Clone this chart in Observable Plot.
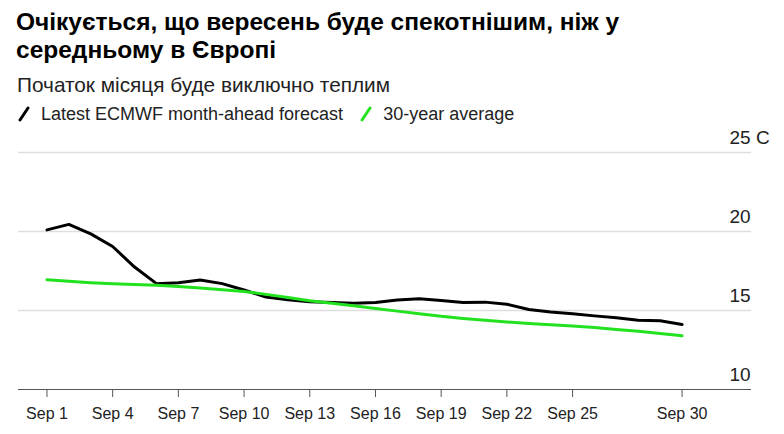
<!DOCTYPE html>
<html>
<head>
<meta charset="utf-8">
<script src="https://cdn.jsdelivr.net/npm/d3@7"></script>
<script src="https://cdn.jsdelivr.net/npm/@observablehq/plot@0.6"></script>
<style>
  html, body { margin: 0; padding: 0; background: #fff; }
  body { width: 784px; height: 434px; position: relative; overflow: hidden;
         font-family: "Liberation Sans", Arial, sans-serif; color: #000; }
  #title { position: absolute; left: 16px; top: 8px; margin: 0; font-size: 24.5px; font-weight: bold; line-height: 28px; }
  #subtitle { position: absolute; left: 17px; top: 73px; font-size: 20.8px; line-height: 24px; color: #222; }
  #legend { position: absolute; left: 17px; top: 103px; font-size: 18px; line-height: 22px; color: #222; display: flex; align-items: center; }
  #legend .item { display: flex; align-items: center; margin-right: 16px; }
  #legend svg { margin-right: 10px; }
  #chart { position: absolute; left: 0; top: 125px; }
</style>
</head>
<body>
<div id="title">Очікується, що вересень буде спекотнішим, ніж у<br>середньому в Європі</div>
<div id="subtitle">Початок місяця буде виключно теплим</div>
<div id="legend"></div>
<div id="chart"></div>
<script>
// ---- data ----
const days = d3.range(1, 31);
const forecast = [20.1, 20.45, 19.85, 19.05, 17.75, 16.7, 16.75, 16.93, 16.7, 16.3,
                  15.85, 15.68, 15.56, 15.5, 15.46, 15.5, 15.66, 15.74, 15.63, 15.5,
                  15.53, 15.4, 15.06, 14.9, 14.79, 14.66, 14.54, 14.38, 14.35, 14.12];
const average = [16.95, 16.85, 16.76, 16.7, 16.65, 16.6, 16.52, 16.42, 16.32, 16.2,
                 16.02, 15.82, 15.62, 15.46, 15.3, 15.12, 14.96, 14.8, 14.63, 14.5,
                 14.38, 14.27, 14.18, 14.1, 14.02, 13.92, 13.8, 13.68, 13.55, 13.4];
const tickDays = [1, 4, 7, 10, 13, 16, 19, 22, 25, 30];
const yTicks = [10, 15, 20, 25];
const seriesNames = ["Latest ECMWF month-ahead forecast", "30-year average"];
const colors = ["#000000", "#22e21f"];

const date = d => new Date(Date.UTC(2023, 8, d));
const DAY = 864e5;

const rows = [];
days.forEach((d, i) => {
  rows.push({date: date(d), value: forecast[i], series: seriesNames[0]});
  rows.push({date: date(d), value: average[i], series: seriesNames[1]});
});

// legend
const legend = document.getElementById("legend");
seriesNames.forEach((name, i) => {
  const it = document.createElement("span");
  it.className = "item";
  it.innerHTML = `<svg width="14" height="16"><line x1="3" y1="14" x2="11" y2="2" stroke="${colors[i]}" stroke-width="3" stroke-linecap="round"/></svg>${name}`;
  legend.appendChild(it);
});

const chart = Plot.plot({
  width: 784,
  height: 309,
  marginLeft: 18,
  marginRight: 33,
  marginTop: 27,
  marginBottom: 45,
  style: {fontFamily: "Liberation Sans, Arial, sans-serif", fontSize: "16px", color: "#222", background: "#fff"},
  x: {type: "utc", domain: [new Date(date(1) - 1.3 * DAY), new Date(+date(30) + 3.17 * DAY)], label: null},
  y: {domain: [10, 25], label: null},
  color: {domain: seriesNames, range: colors},
  marks: [
    Plot.ruleY(yTicks.filter(t => t > 10), {stroke: "#dedede", strokeWidth: 1.5}),
    Plot.ruleY([10], {stroke: "#555", strokeWidth: 1}),
    Plot.axisX(tickDays.map(date), {
      tickSize: 8, tickPadding: 10, stroke: "#555", label: null,
      tickFormat: d => "Sep " + d.getUTCDate(), fontSize: 16
    }),
    Plot.axisY(yTicks, {
      anchor: "right", tickSize: 0, tickPadding: 0, textAnchor: "start", dx: -22, dy: -15, label: null,
      tickFormat: d => d === 25 ? "25 C" : String(d), fontSize: 19
    }),
    Plot.line(rows, {x: "date", y: "value", z: "series", stroke: "series", strokeWidth: 3, curve: "linear"})
  ]
});
document.getElementById("chart").appendChild(chart);
</script>
</body>
</html>
